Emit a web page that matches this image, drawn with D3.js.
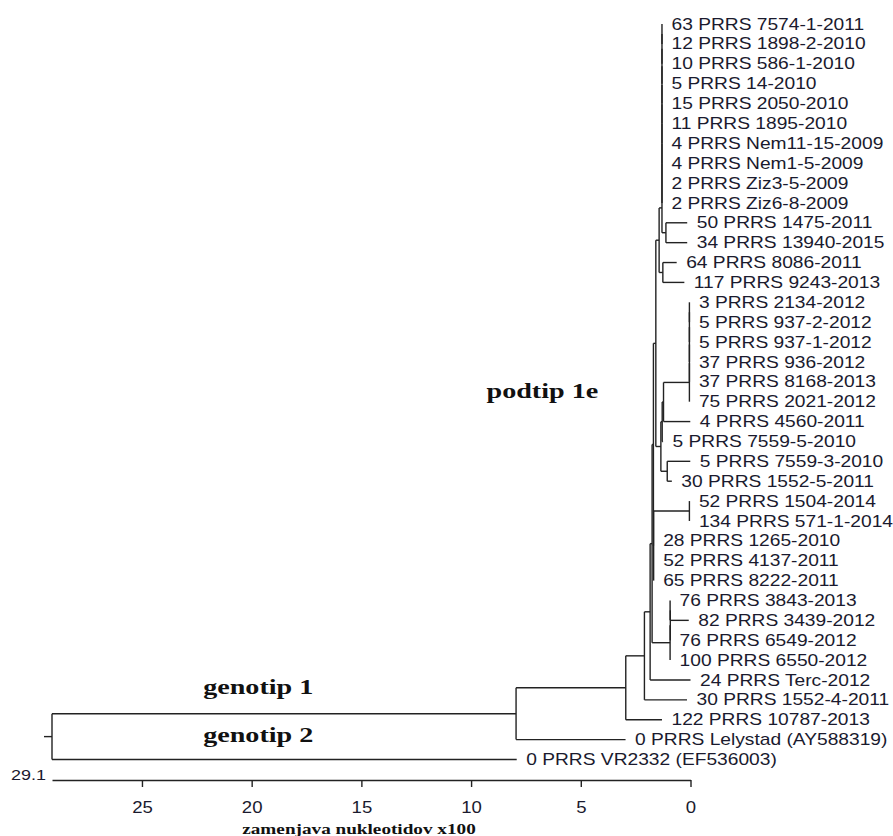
<!DOCTYPE html>
<html>
<head>
<meta charset="utf-8">
<script src="https://cdn.jsdelivr.net/npm/d3@7"></script>
<style>
  body { margin: 0; background: #fff; }
  svg { display: block; }
  .leaf { font-family: "Liberation Sans", Arial, sans-serif; font-size: 16px; fill: #1a1a2e; }
  .clade { font-family: "Liberation Serif", "Times New Roman", serif; font-weight: bold; font-size: 22px; fill: #111; }
  .title { font-family: "Liberation Serif", "Times New Roman", serif; font-weight: bold; font-size: 15px; fill: #111; }
</style>
</head>
<body>
<div id="chart"></div>
<script>
// leaves, top to bottom
const leafLabels = [
  "63 PRRS 7574-1-2011", "12 PRRS 1898-2-2010", "10 PRRS 586-1-2010", "5 PRRS 14-2010",
  "15 PRRS 2050-2010", "11 PRRS 1895-2010", "4 PRRS Nem11-15-2009", "4 PRRS Nem1-5-2009",
  "2 PRRS Ziz3-5-2009", "2 PRRS Ziz6-8-2009", "50 PRRS 1475-2011", "34 PRRS 13940-2015",
  "64 PRRS 8086-2011", "117 PRRS 9243-2013", "3 PRRS 2134-2012", "5 PRRS 937-2-2012",
  "5 PRRS 937-1-2012", "37 PRRS 936-2012", "37 PRRS 8168-2013", "75 PRRS 2021-2012",
  "4 PRRS 4560-2011", "5 PRRS 7559-5-2010", "5 PRRS 7559-3-2010", "30 PRRS 1552-5-2011",
  "52 PRRS 1504-2014", "134 PRRS 571-1-2014", "28 PRRS 1265-2010", "52 PRRS 4137-2011",
  "65 PRRS 8222-2011", "76 PRRS 3843-2013", "82 PRRS 3439-2012", "76 PRRS 6549-2012",
  "100 PRRS 6550-2012", "24 PRRS Terc-2012", "30 PRRS 1552-4-2011", "122 PRRS 10787-2013",
  "0 PRRS Lelystad (AY588319)", "0 PRRS VR2332 (EF536003)"
];
const leafParents = [
  "q1", "q1", "q2", "q3", "q4", "q5", "q6", "q7", "q8", "q9",
  "n5034", "n5034", "n64117", "n64117",
  "r1", "r1", "r2", "r3", "r4", "r",
  "w", "u", "v", "v",
  "h", "h", "hl", "hl", "hl",
  "f1", "f1", "f2", "f",
  "c", "b", "a", "g1", "root"
];
// where each leaf branch ends, in axis units (nucleotide substitutions x100)
const leafValues = [
  1.30, 1.30, 1.30, 1.30, 1.30, 1.30, 1.30, 1.30, 1.30, 1.30,
  0.15, 0.15, 0.63, 0.28,
  0.05, 0.05, 0.05, 0.05, 0.05, 0.05,
  0.01, 1.25, 0.01, 0.85,
  0.05, 0.05, 1.68, 1.68, 1.68,
  0.93, 0.08, 0.93, 0.93,
  0.00, 0.16, 1.30, 2.96, 7.92
];

// internal nodes
const nodeIds = [
  "root", "g1", "a", "b", "c", "d", "k", "e", "p1", "q",
  "q9", "q8", "q7", "q6", "q5", "q4", "q3", "q2", "q1",
  "n5034", "n64117", "t", "u", "w", "r", "r4", "r3", "r2", "r1",
  "v", "hl", "h", "f", "f2", "f1"
];
const nodeParents = [
  null, "root", "g1", "a", "b", "c", "d", "k", "e", "p1",
  "q", "q9", "q8", "q7", "q6", "q5", "q4", "q3", "q2",
  "q", "p1", "e", "t", "u", "w", "r", "r4", "r3", "r2",
  "t", "k", "hl", "d", "f", "f2"
];
const nodeValues = [
  29.1, 7.95, 2.95, 2.10, 1.84, 1.75, 1.69, 1.58, 1.43, 1.30,
  1.30, 1.30, 1.30, 1.30, 1.30, 1.30, 1.30, 1.30, 1.30,
  1.12, 1.26, 1.35, 1.29, 1.23, 0.05, 0.05, 0.05, 0.05, 0.05,
  1.06, 1.68, 0.05, 0.93, 0.92, 0.93
];

const axisMax = 29.1;
const tickValues = [25, 20, 15, 10, 5, 0];
const axisTitle = "zamenjava nukleotidov x100";

// clade labels: axis position and row position
const cladeLabels = ["genotip 1", "genotip 2", "podtip 1e"];
const cladeValues = [19.7, 19.7, 6.75];
const cladeRows = [33.7, 36.1, 18.8];

const width = 893;
const height = 836;
const axisY = 780;
const ink = "#222";

const svg = d3.select("#chart")
  .append("svg")
  .attr("width", width)
  .attr("height", height)
  .style("background", "#fff");

const x = d3.scaleLinear().domain([axisMax, 0]).range([52, 690.5]);
const y = d3.scaleLinear().domain([0, leafLabels.length - 1]).range([24, 759.5]);

// build hierarchy
const table = nodeIds
  .map((id, i) => ({ id, parent: nodeParents[i], value: nodeValues[i] }))
  .concat(leafLabels.map((label, i) => ({
    id: "L" + i, parent: leafParents[i], value: leafValues[i], label, row: i
  })));

const root = d3.stratify()
  .id((d) => d.id)
  .parentId((d) => d.parent)(table);

// MEGA style: node sits midway between its first and last child
root.eachAfter((n) => {
  n.px = x(n.data.value);
  n.py = n.children
    ? (d3.min(n.children, (c) => c.py) + d3.max(n.children, (c) => c.py)) / 2
    : y(n.data.row);
});

const tree = svg.append("g")
  .attr("stroke", ink)
  .attr("stroke-width", 1.4)
  .attr("fill", "none");

// horizontal branches
tree.selectAll(".branch")
  .data(root.descendants().filter((d) => d.parent))
  .join("line")
  .attr("class", "branch")
  .attr("x1", (d) => d.parent.px)
  .attr("x2", (d) => d.px)
  .attr("y1", (d) => d.py)
  .attr("y2", (d) => d.py);

// vertical connectors
tree.selectAll(".join")
  .data(root.descendants().filter((d) => d.children))
  .join("line")
  .attr("class", "join")
  .attr("x1", (d) => d.px)
  .attr("x2", (d) => d.px)
  .attr("y1", (d) => d3.min(d.children, (c) => c.py))
  .attr("y2", (d) => d3.max(d.children, (c) => c.py));

// root stub
tree.append("line")
  .attr("x1", root.px - 8)
  .attr("x2", root.px)
  .attr("y1", root.py)
  .attr("y2", root.py);

// leaf labels
svg.append("g")
  .selectAll("g")
  .data(root.leaves())
  .join("g")
  .attr("transform", (d) => `translate(${d.px + 9.5},${d.py})`)
  .append("text")
  .attr("class", "leaf")
  .attr("dy", "0.35em")
  .attr("transform", "scale(1.2,1)")
  .text((d) => d.data.label);

// clade labels
svg.append("g")
  .selectAll("g")
  .data(cladeLabels)
  .join("g")
  .attr("transform", (d, i) => `translate(${x(cladeValues[i])},${y(cladeRows[i])})`)
  .append("text")
  .attr("class", "clade")
  .attr("text-anchor", "middle")
  .attr("transform", "scale(1.28,1)")
  .text((d) => d);

// axis
const gAxis = svg.append("g")
  .attr("transform", `translate(0,${axisY})`)
  .call(
    d3.axisBottom(x)
      .tickValues(tickValues)
      .tickSize(7)
      .tickSizeOuter(0)
      .tickPadding(15)
      .tickFormat(d3.format("d"))
  );
gAxis.select(".domain").attr("stroke", ink).attr("stroke-width", 1.4);
gAxis.selectAll(".tick line").attr("stroke", ink).attr("stroke-width", 1.4);
gAxis.selectAll(".tick text")
  .attr("fill", "#1a1a2e")
  .attr("font-family", "'Liberation Sans', Arial, sans-serif")
  .attr("font-size", 16)
  .attr("transform", "scale(1.16,1)");

svg.append("g")
  .attr("transform", `translate(${x(axisMax) - 6},${axisY})`)
  .append("text")
  .attr("text-anchor", "end")
  .attr("fill", "#1a1a2e")
  .attr("font-family", "'Liberation Sans', Arial, sans-serif")
  .attr("font-size", 15.5)
  .attr("transform", "scale(1.16,1)")
  .text(axisMax);

svg.append("g")
  .attr("transform", `translate(359,834)`)
  .append("text")
  .attr("class", "title")
  .attr("text-anchor", "middle")
  .attr("transform", "scale(1.28,1)")
  .text(axisTitle);
</script>
</body>
</html>
